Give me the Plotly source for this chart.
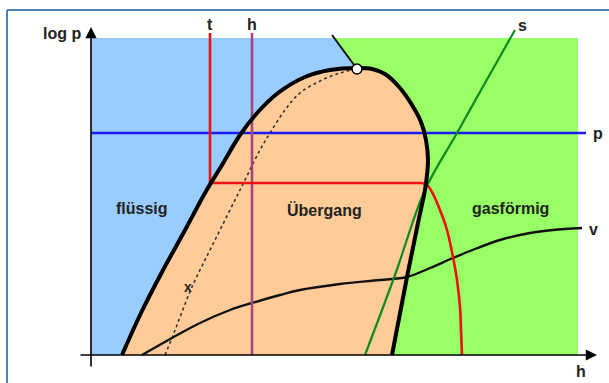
import plotly.graph_objects as go

# Schematic log p-h diagram, coordinates in diagram units (origin at the axes' crossing)

# saturation dome: left (liquid) branch and right (vapour) branch
dome_left_h = [31, 50, 71, 93, 114, 131, 149, 167, 187, 214, 239, 266]
dome_left_p = [0, 42, 83, 123, 162, 190, 220, 243, 262, 278, 285, 287]
dome_right_h = [266, 281, 294, 309, 321, 330, 335, 337, 336, 334, 327, 316, 301]
dome_right_p = [287, 286, 281, 267, 250, 233, 215, 195, 180, 165, 132, 78, 0]

# critical point
crit_h = [266]
crit_p = [286]

# boundary liquid / gas above the critical point
bound_h = [241, 249, 256, 261, 266]
bound_p = [320, 309, 300, 293, 286]

# quality line x
x_h = [74, 81, 101, 124, 149, 169, 179, 194, 209, 229, 249, 266]
x_p = [0, 17, 68, 115, 165, 205, 222, 245, 262, 274, 282, 286]

# isotherm t
t_h = [119, 119, 331, 336, 341, 349, 356, 362, 366, 369, 370, 371]
t_p = [322, 172, 172, 170, 163, 145, 125, 98, 75, 48, 25, 0]

# isenthalp h
hl_h = [161, 161]
hl_p = [322, 0]

# isobar p
pl_h = [0, 495]
pl_p = [222, 222]

# isentrope s
s_h = [274, 304, 334, 366, 394, 424]
s_p = [0, 80, 165, 222, 272, 325]

# isochore v
v_h = [51, 81, 109, 139, 161, 189, 209, 249, 289, 316, 339, 362, 384, 409, 439, 462, 491]
v_p = [0, 17, 32, 45, 52, 60, 65, 71, 75, 78, 87, 97, 106, 115, 122, 125, 127]

# background extents
bg_h_max = 487
bg_p_max = 317

BLUE_BG = "#99CCFF"
GREEN_BG = "#99FF66"
PEACH = "#FFCC99"
FONT = "Liberation Sans, Arial, sans-serif"
TXT = "#222222"

fig = go.Figure()

# liquid region (whole background)
fig.add_trace(go.Scatter(x=[0, bg_h_max, bg_h_max, 0, 0], y=[0, 0, bg_p_max, bg_p_max, 0],
                         fill="toself", fillcolor=BLUE_BG, mode="none", hoverinfo="skip"))

# gas region: right of the boundary and the vapour branch
g_h = [243] + bound_h[2:] + dome_right_h[1:] + [bg_h_max, bg_h_max, 243]
g_p = [bg_p_max] + bound_p[2:] + dome_right_p[1:] + [0, bg_p_max, bg_p_max]
fig.add_trace(go.Scatter(x=g_h, y=g_p, fill="toself", fillcolor=GREEN_BG, mode="none",
                         hoverinfo="skip"))

# two-phase region
fig.add_trace(go.Scatter(x=dome_left_h + dome_right_h[1:] + [dome_left_h[0]],
                         y=dome_left_p + dome_right_p[1:] + [dome_left_p[0]],
                         fill="toself", fillcolor=PEACH, mode="none", hoverinfo="skip"))

# curves
fig.add_trace(go.Scatter(x=x_h, y=x_p, mode="lines",
                         line=dict(color="#333333", width=1.6, dash="dot", shape="spline")))
fig.add_trace(go.Scatter(x=v_h, y=v_p, mode="lines", line=dict(color="#111111", width=2.4, shape="spline")))
fig.add_trace(go.Scatter(x=pl_h, y=pl_p, mode="lines", line=dict(color="#1a1af0", width=2.4)))
fig.add_trace(go.Scatter(x=hl_h, y=hl_p, mode="lines", line=dict(color="#a8457c", width=2.6)))
fig.add_trace(go.Scatter(x=t_h[:3], y=t_p[:3], mode="lines", line=dict(color="#ee1111", width=2.6)))
fig.add_trace(go.Scatter(x=t_h[2:], y=t_p[2:], mode="lines", line=dict(color="#ee1111", width=2.6, shape="spline")))
fig.add_trace(go.Scatter(x=s_h, y=s_p, mode="lines", line=dict(color="#0c8a1c", width=2.2, shape="spline")))
fig.add_trace(go.Scatter(x=bound_h, y=bound_p, mode="lines", line=dict(color="#111111", width=2)))
fig.add_trace(go.Scatter(x=dome_left_h + dome_right_h[1:], y=dome_left_p + dome_right_p[1:],
                         mode="lines", line=dict(color="#000000", width=4, shape="spline")))
fig.add_trace(go.Scatter(x=crit_h, y=crit_p, mode="markers",
                         marker=dict(size=10, color="white", line=dict(color="#000000", width=1.5))))

annotations = []
# axes with arrow heads
annotations.append(dict(x=506, y=0, ax=-12, ay=0, xref="x", yref="y", axref="x", ayref="y",
                        showarrow=True, arrowhead=2, arrowsize=1.4, arrowwidth=1.6,
                        arrowcolor="#000000", text=""))
annotations.append(dict(x=0, y=328, ax=0, ay=-13, xref="x", yref="y", axref="x", ayref="y",
                        showarrow=True, arrowhead=2, arrowsize=1.4, arrowwidth=1.6,
                        arrowcolor="#000000", text=""))

labels = [
    ("log p", -8, 322, 16, "right"),
    ("h", 490, -16, 16, "center"),
    ("t", 119, 331, 16, "center"),
    ("h", 161, 331, 16, "center"),
    ("s", 431, 330, 16, "center"),
    ("p", 507, 222, 16, "center"),
    ("v", 502, 126, 16, "center"),
    ("flüssig", 51, 147, 16, "center"),
    ("Übergang", 233, 145, 16, "center"),
    ("gasförmig", 419, 147, 16, "center"),
    ("x", 97, 68, 14, "center"),
]
for txt, hx, py, sz, al in labels:
    annotations.append(dict(x=hx, y=py, xref="x", yref="y", text=f"<b>{txt}</b>", showarrow=False,
                            xanchor=al, yanchor="middle",
                            font=dict(family=FONT, size=sz, color=TXT)))

shapes = [
    dict(type="line", xref="x", yref="y", x0=-84, y0=345, x1=-84, y1=-40,
         line=dict(color="#4f81bd", width=2)),
    dict(type="line", xref="x", yref="y", x0=-84, y0=345, x1=530, y1=345,
         line=dict(color="#4f81bd", width=2)),
]

fig.update_layout(
    width=609, height=383,
    margin=dict(l=0, r=0, t=0, b=0),
    paper_bgcolor="white", plot_bgcolor="white",
    showlegend=False,
    xaxis=dict(range=[-91, 518], visible=False, fixedrange=True),
    yaxis=dict(range=[-28, 355], visible=False, fixedrange=True),
    annotations=annotations,
    shapes=shapes,
)

fig.write_html("out.html")
